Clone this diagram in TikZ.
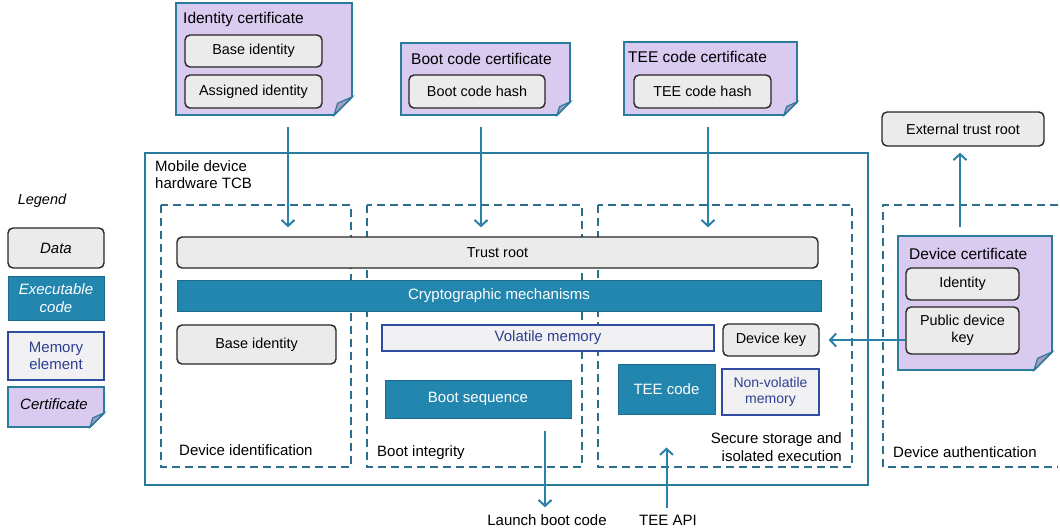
\documentclass[tikz,border=0pt]{standalone}
\usepackage{fontspec}
\setmainfont{Liberation Sans}
\usetikzlibrary{arrows.meta,fit,calc}
\definecolor{teal1}{HTML}{2A82AA}
\definecolor{tealline}{HTML}{2B7B9C}
\definecolor{execfill}{HTML}{2386AF}
\definecolor{execline}{HTML}{1D6E8E}
\definecolor{certfill}{HTML}{D9CAF0}
\definecolor{foldfill}{HTML}{A99CC2}
\definecolor{datafill}{HTML}{EBEBEB}
\definecolor{memfill}{HTML}{F1F1F3}
\definecolor{memline}{HTML}{2E4DA0}
\definecolor{memtext}{HTML}{2E3F90}
\definecolor{dashcol}{HTML}{2A6F8E}
\tikzset{
  txt/.style={font=\fontsize{15}{17.5}\selectfont, inner sep=0pt},
  data/.style={draw=black!85, fill=datafill, rounded corners=5pt, line width=1.4pt, font=\fontsize{14.4}{17}\selectfont, align=center, inner sep=0pt},
  exec/.style={draw=execline, fill=execfill, line width=1pt, text=white, font=\fontsize{15}{17.5}\selectfont, align=center, inner sep=0pt},
  mem/.style={draw=memline, fill=memfill, line width=1.4pt, text=memtext, font=\fontsize{15}{17.5}\selectfont, align=center, inner sep=0pt},
  zone/.style={draw=dashcol, line width=1.5pt, dash pattern=on 8pt off 5pt},
  arr/.style={draw=teal1, line width=2pt, -{Straight Barb[length=6pt,width=13pt,line width=2pt]}},
  certtitle/.style={font=\fontsize{15.5}{18}\selectfont, anchor=west, inner sep=0pt},
}
% name, x1, y1, x2, y2, fold
\newcommand\certbox[6]{%
  \filldraw[fill=certfill, draw=tealline, line width=1.8pt, line join=miter]
    (#2,#3) -- (#4,#3) -- (#4,{#5-#6}) -- ({#4-#6},#5) -- (#2,#5) -- cycle;
  \filldraw[fill=foldfill, draw=tealline, line width=1.2pt]
    ({#4-#6},#5) -- (#4,{#5-#6}) -- ({#4-0.8*#6},{#5-0.65*#6}) -- cycle;
  \coordinate (#1-nw) at (#2,#3);
  \coordinate (#1-se) at (#4,#5);
  \node[inner sep=0pt, fit=(#1-nw)(#1-se)] (#1) {};
}
\begin{document}
\begin{tikzpicture}[x=1pt,y=-1pt]
\useasboundingbox (0,0) rectangle (1060,531);

% ---------- legend ----------
\node[txt, font=\fontsize{14.5}{16}\selectfont\itshape] (legend) at (42,201) {Legend};
\node[data, minimum width=96pt, minimum height=40pt, font=\fontsize{15}{17.5}\selectfont] (ldata) at (56,248) {\itshape Data};
\node[exec, minimum width=96pt, minimum height=44pt] (lexec) at (56,298) {\itshape Executable\\\itshape code};
\node[mem, minimum width=96pt, minimum height=48pt] (lmem) at (56,356) {Memory\\element};
\certbox{lcert}{8}{387}{104}{427}{14}
\node[txt, font=\fontsize{15}{17.5}\selectfont\itshape] (lcerttxt) at (54,404) {Certificate};

% ---------- certificates on top ----------
\certbox{idcert}{176}{3}{352}{115}{18}
\node[certtitle] (idcerttitle) at (183,19) {Identity certificate};
\node[data, minimum width=137pt, minimum height=32pt] (baseid1) at (253.5,51) {Base identity};
\node[data, minimum width=137pt, minimum height=33pt] (assid) at (253.5,91.5) {Assigned identity};

\certbox{bootcert}{401}{43}{570}{115}{13}
\node[certtitle] (bootcerttitle) at (411,59) {Boot code certificate};
\node[data, minimum width=136pt, minimum height=33pt] (boothash) at (477,91.5) {Boot code hash};

\certbox{teecert}{624}{42}{797}{115}{13}
\node[certtitle] (teecerttitle) at (628,57) {TEE code certificate};
\node[data, minimum width=137pt, minimum height=33pt] (teehash) at (702.5,91.5) {TEE code hash};

\node[data, minimum width=162pt, minimum height=34pt] (ext) at (963,129) {External trust root};

% ---------- TCB ----------
\draw[tealline, line width=1.6pt] (145,153) rectangle (868,485);
\node[txt, anchor=north west, align=left] (tcbtitle) at (155,160) {Mobile device\\hardware TCB};

\draw[zone] (161,205) rectangle (351,467);
\draw[zone] (367,205) rectangle (582,467);
\draw[zone] (598,205) rectangle (852,467);
\draw[zone] (1058,205) -- (883,205) -- (883,467) -- (1058,467);

\node[txt, anchor=west] (zid) at (179,450) {Device identification};
\node[txt, anchor=west] (zboot) at (377,453) {Boot integrity};
\node[txt, anchor=east, align=right] (zsec) at (842,447) {Secure storage and\\isolated execution};
\node[txt, anchor=west] (zauth) at (893,452) {Device authentication};

\node[data, minimum width=641pt, minimum height=31pt] (trust) at (497.5,252.5) {Trust root};
\node[exec, minimum width=644pt, minimum height=31pt] (crypto) at (499,295.5) {Cryptographic mechanisms};
\node[data, minimum width=159pt, minimum height=39pt] (baseid) at (256.5,344.5) {Base identity};
\node[mem, minimum width=332pt, minimum height=26pt] (vol) at (548,338) {Volatile memory};
\node[data, minimum width=96pt, minimum height=32pt] (dkey) at (771,340) {Device key};
\node[exec, minimum width=186pt, minimum height=38pt] (bootseq) at (478,399) {Boot sequence};
\node[exec, minimum width=97pt, minimum height=50pt] (teecode) at (666.5,389) {TEE code};
\node[mem, minimum width=97pt, minimum height=46pt, font=\fontsize{14}{16.5}\selectfont] (nvm) at (770.5,392) {Non-volatile\\memory};

% ---------- device certificate ----------
\certbox{devcert}{898}{236}{1052}{370}{18}
\node[certtitle] (devcerttitle) at (909,254) {Device certificate};
\node[data, minimum width=113pt, minimum height=32pt] (ident) at (962.5,284) {Identity};
\node[data, minimum width=113pt, minimum height=47pt] (pubkey) at (962.5,330.5) {Public device\\key};

% ---------- outside labels ----------
\node[txt] (launch) at (547,520) {Launch boot code};
\node[txt] (teeapi) at (668,520) {TEE API};

% ---------- connectors ----------
\coordinate (xa) at (288,0);
\coordinate (xb) at (481,0);
\coordinate (xc) at (708,0);
\coordinate (xd) at (960,0);
\coordinate (xe) at (545,0);
\draw[arr, shorten <=12pt, shorten >=9pt] (idcert.south -| xa) -- (trust.north -| xa);
\draw[arr, shorten <=12pt, shorten >=9pt] (bootcert.south -| xb) -- (trust.north -| xb);
\draw[arr, shorten <=12pt, shorten >=9pt] (teecert.south -| xc) -- (trust.north -| xc);
\draw[arr, shorten <=9pt, shorten >=6pt] (devcert.north -| xd) -- (ext.south -| xd);
\draw[arr, shorten >=9pt] (dkey.east -| pubkey.west) -- (dkey.east);
\draw[arr, shorten <=12pt, shorten >=7pt] (bootseq.south -| xe) -- (launch.north -| xe);
\draw[arr, shorten <=7pt, shorten >=33pt] (teeapi.north -| teecode.south) -- (teecode.south);
\end{tikzpicture}
\end{document}
